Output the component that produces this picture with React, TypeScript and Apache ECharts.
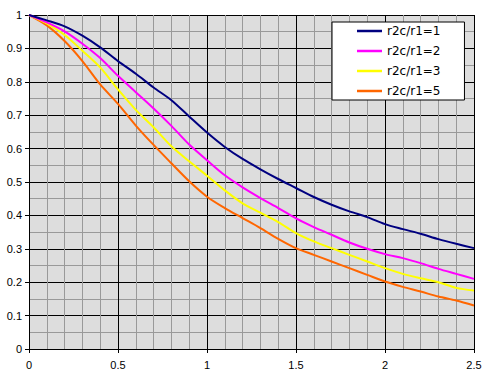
import React, { useEffect, useRef } from "react";
import * as echarts from "echarts";

const xValues = [0, 0.1, 0.2, 0.3, 0.4, 0.5, 0.6, 0.7, 0.8, 0.9, 1.0, 1.1, 1.2, 1.3, 1.4, 1.5, 1.6, 1.7, 1.8, 1.9, 2.0, 2.1, 2.2, 2.3, 2.4, 2.5];
const seriesNames = ["r2c/r1=1", "r2c/r1=2", "r2c/r1=3", "r2c/r1=5"];
const ratio1 = [1, 0.984, 0.966, 0.938, 0.903, 0.862, 0.824, 0.783, 0.745, 0.696, 0.648, 0.605, 0.569, 0.538, 0.509, 0.482, 0.455, 0.432, 0.412, 0.395, 0.374, 0.359, 0.345, 0.329, 0.315, 0.302];
const ratio2 = [1, 0.978, 0.951, 0.914, 0.871, 0.818, 0.769, 0.72, 0.668, 0.612, 0.565, 0.52, 0.484, 0.452, 0.422, 0.391, 0.365, 0.342, 0.319, 0.3, 0.284, 0.272, 0.257, 0.24, 0.225, 0.21];
const ratio3 = [1, 0.975, 0.94, 0.893, 0.843, 0.777, 0.716, 0.664, 0.607, 0.562, 0.519, 0.475, 0.436, 0.408, 0.38, 0.347, 0.322, 0.302, 0.282, 0.262, 0.242, 0.225, 0.212, 0.2, 0.183, 0.175];
const ratio5 = [1, 0.969, 0.922, 0.862, 0.792, 0.734, 0.669, 0.611, 0.556, 0.502, 0.456, 0.422, 0.392, 0.362, 0.33, 0.302, 0.282, 0.262, 0.242, 0.222, 0.202, 0.186, 0.172, 0.157, 0.145, 0.13];
const allSeries = [ratio1, ratio2, ratio3, ratio5];
const colors = ["#000080", "#FF00FF", "#FFFF00", "#FF6600"];

export default function App() {
  const ref = useRef<HTMLDivElement>(null);
  useEffect(() => {
    document.body.style.margin = "0";
    const chart = echarts.init(ref.current!, undefined, { renderer: "svg" });
    const axisFont = { fontFamily: "Liberation Sans, Arial, sans-serif", fontSize: 11, color: "#000" };
    chart.setOption({
      animation: false,
      backgroundColor: "#fff",
      grid: { left: 29, right: 13, top: 15, bottom: 31, containLabel: false, show: true, backgroundColor: "#DDDDDD", borderWidth: 0 },
      legend: {
        orient: "vertical",
        left: 332,
        top: 22,
        backgroundColor: "#fff",
        borderColor: "#000",
        borderWidth: 1,
        padding: [3, 24, 3, 25],
        itemGap: 8,
        itemWidth: 25,
        itemHeight: 2.5,
        icon: "rect",
        textStyle: { fontFamily: "DejaVu Sans, sans-serif", fontSize: 12, color: "#000" },
        data: seriesNames,
      },
      xAxis: {
        type: "value",
        min: 0,
        max: 2.5,
        interval: 0.5,
        axisLine: { show: true, lineStyle: { color: "#000", width: 1 } },
        axisTick: { show: true, length: 4, lineStyle: { color: "#000" } },
        axisLabel: { ...axisFont, margin: 10 },
        splitLine: { show: true, lineStyle: { color: "#000", width: 1 } },
        minorTick: { show: false, splitNumber: 5 },
        minorSplitLine: { show: true, lineStyle: { color: "#999", width: 1 } },
      },
      yAxis: {
        type: "value",
        min: 0,
        max: 1,
        interval: 0.1,
        axisLine: { show: true, lineStyle: { color: "#000", width: 1 } },
        axisTick: { show: true, length: 4, lineStyle: { color: "#000" } },
        axisLabel: { ...axisFont, margin: 7 },
        splitLine: { show: true, lineStyle: { color: "#000", width: 1 } },
        minorTick: { show: false, splitNumber: 2 },
        minorSplitLine: { show: true, lineStyle: { color: "#999", width: 1 } },
      },
      series: allSeries.map((vals, i) => ({
        name: seriesNames[i],
        type: "line",
        showSymbol: false,
        smooth: 0.3,
        color: colors[i],
        lineStyle: { color: colors[i], width: 2 },
        data: vals.map((v, j) => [xValues[j], v]),
        z: 10 - i,
      })),
    });
    return () => chart.dispose();
  }, []);
  return <div ref={ref} style={{ width: 487, height: 380 }} />;
}
